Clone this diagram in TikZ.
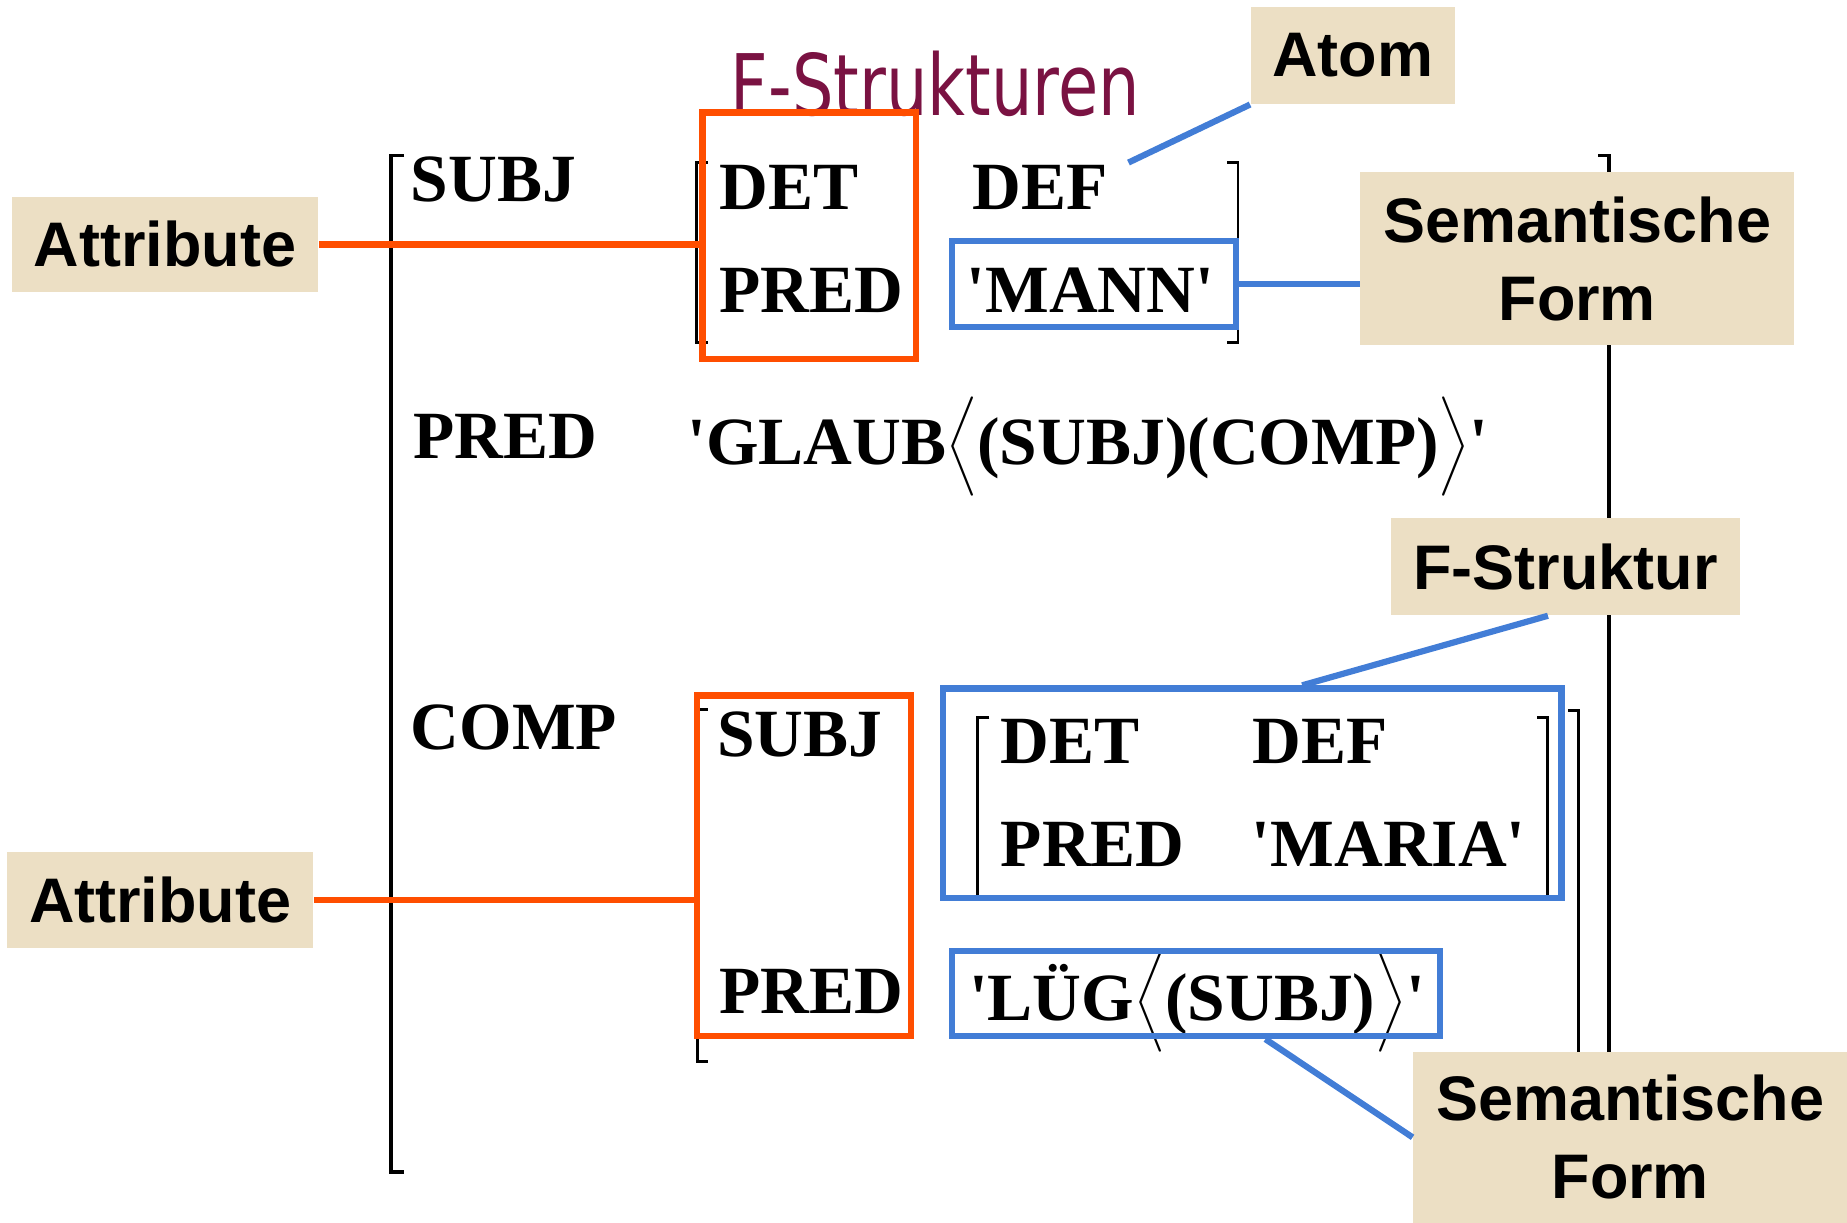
\documentclass[tikz,border=0pt]{standalone}
\usepackage{graphicx}
\usepackage{fontspec}
\setmainfont{Liberation Serif}
\newfontfamily\labelfont{Liberation Sans}
\newfontfamily\titlefont{DejaVu Sans}
\usetikzlibrary{calc}

\definecolor{paper}{RGB}{236,223,196}
\definecolor{fsorange}{RGB}{255,78,0}
\definecolor{fsblue}{RGB}{66,125,214}
\definecolor{titlered}{RGB}{122,18,66}

\newcommand{\fsfont}{\fontsize{16.3}{20}\selectfont\bfseries}
\newcommand{\sq}{\textquotesingle}
\newcommand{\langl}{$\nulldelimiterspace=0pt\left\langle\vcenter to 20pt{}\right.$}
\newcommand{\rangl}{$\nulldelimiterspace=0pt\left.\vcenter to 20pt{}\right\rangle$}

\tikzset{
  attr/.style={font=\fsfont, inner sep=0pt, anchor=base west},
  note/.style={fill=paper, inner sep=0pt, align=center,
    font={\labelfont\fontsize{15.2}{18.8}\selectfont\bfseries}},
  obox/.style={draw=fsorange, line width=1.5pt, inner sep=0pt},
  bbox/.style={draw=fsblue, line width=1.5pt, inner sep=0pt},
  oline/.style={draw=fsorange, line width=1.5pt},
  bline/.style={draw=fsblue, line width=1.5pt},
  brack/.style={draw=black, line width=0.85pt},
}

\begin{document}
\begin{tikzpicture}[x=0.01cm, y=-0.01cm]
\useasboundingbox (0,0) rectangle (1568,1038);

\node[text=titlered, font={\titlefont\fontsize{20.5}{24}\selectfont}, anchor=base] (title) at (794,98) {\scalebox{0.77}[1]{F-Strukturen}};

% brackets
\draw[brack] (343,132) -- (332,132) -- (332,995) -- (343,995);
\draw[brack] (1357,132) -- (1366,132) -- (1366,1000);
\draw[brack, line width=0.7pt] (601,138) -- (591,138) -- (591,291) -- (601,291);
\draw[brack, line width=0.7pt] (1042,138) -- (1051,138) -- (1051,291) -- (1042,291);
\draw[brack, line width=0.7pt] (601,602) -- (592,602) -- (592,901) -- (601,901);
\draw[brack, line width=0.7pt] (1331,603) -- (1340,603) -- (1340,1000);
\draw[brack, line width=0.7pt] (840,609) -- (830,609) -- (830,761) -- (840,761);
\draw[brack, line width=0.7pt] (1305,609) -- (1314,609) -- (1314,761) -- (1305,761);

\node[attr] (subj) at (348,171) {SUBJ};
\node[attr] (det1) at (610,178) {DET};
\node[attr] (def1) at (825,178) {DEF};
\node[attr] (pred1) at (610,265) {PRED};
\node[attr] (mann) at (820,265) {\sq MANN\sq};

\node[attr] (pred) at (350,389) {PRED};
\node[attr] (glaub) at (583,394) {\sq GLAUB\langl(SUBJ)(COMP)\rangl\sq};

\node[attr] (comp) at (348,636) {COMP};
\node[attr] (subj2) at (608,642) {SUBJ};
\node[attr] (det2) at (849,648) {DET};
\node[attr] (def2) at (1063,648) {DEF};
\node[attr] (pred3) at (849,736) {PRED};
\node[attr] (maria) at (1062,736) {\sq MARIA\sq};
\node[attr] (pred2) at (610,860) {PRED};
\node[attr] (lueg) at (822,866) {\sq LÜG\langl(SUBJ)\rangl\sq};

\node[obox, minimum width=1.81cm, minimum height=2.09cm] (detpred1) at (687,200) {};
\node[bbox, minimum width=2.41cm, minimum height=0.73cm] (mannbox) at (929,241) {};
\node[obox, minimum width=1.82cm, minimum height=2.89cm] (subjpred2) at (682.5,735) {};
\node[bbox, minimum width=5.25cm, minimum height=1.78cm] (fsbox) at (1063,673.5) {};
\node[bbox, minimum width=4.14cm, minimum height=0.72cm] (luegbox) at (1015.5,843.5) {};

\node[note, minimum width=2.60cm, minimum height=0.81cm] (attr1) at (140,207.5) {Attribute};
\node[note, minimum width=1.73cm, minimum height=0.82cm] (atom) at (1148.5,47) {Atom};
\node[note, minimum width=3.68cm, minimum height=1.47cm] (sem1) at (1339,219.5) {Semantische\\Form};
\node[note, minimum width=2.96cm, minimum height=0.82cm] (fstr) at (1329,481) {F-Struktur};
\node[note, minimum width=2.60cm, minimum height=0.82cm] (attr2) at (136,764) {Attribute};
\node[note, minimum width=3.68cm, minimum height=1.45cm] (sem2) at (1384,965.5) {Semantische\\Form};

\coordinate (deftip) at (958,138);

\draw[oline] (attr1.east) -- (attr1.east -| detpred1.west);
\draw[oline] (attr2.east) -- (attr2.east -| subjpred2.west);
\draw[bline] (mannbox.east) -- (mannbox.east -| sem1.west);
\draw[bline] (atom.south west) -- (deftip);
\draw[bline] ($(fstr.south west)!0.45!(fstr.south east)$) -- ($(fsbox.north west)!0.58!(fsbox.north east)$);
\draw[bline] ($(luegbox.south west)!0.64!(luegbox.south east)$) -- (sem2.west);
\end{tikzpicture}
\end{document}
